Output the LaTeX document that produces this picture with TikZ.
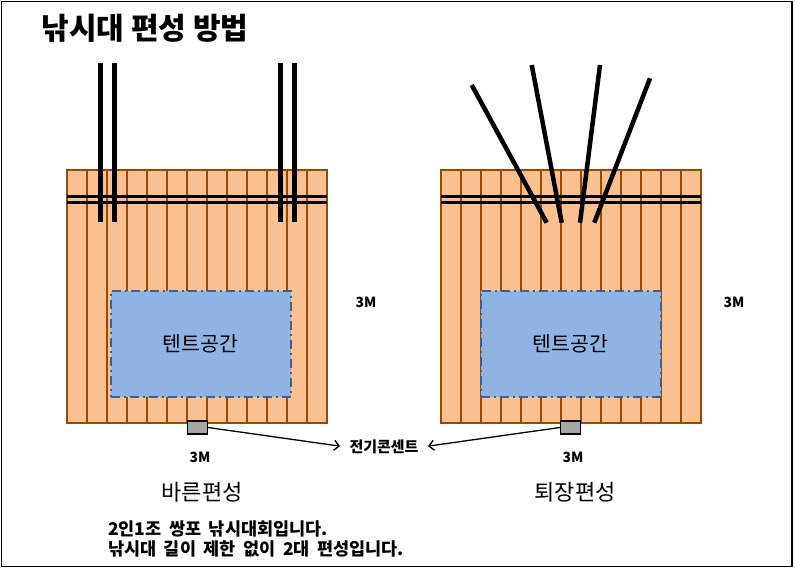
\documentclass[tikz,border=0pt]{standalone}
\usepackage{fontspec}
\setmainfont{Noto Sans CJK KR}
\usetikzlibrary{arrows.meta, positioning}
\definecolor{plank}{HTML}{FAC090}
\definecolor{plankline}{HTML}{984807}
\definecolor{tent}{HTML}{8EB4E3}
\definecolor{tentline}{HTML}{3A6296}
\definecolor{plug}{HTML}{A6A6A6}

\begin{document}
\begin{tikzpicture}[x=1pt, y=-1pt,
  rod/.style = {line width=4.5pt},
  rope/.style = {line width=3pt},
  tentbox/.style = {draw=tentline, fill=tent, line width=2pt,
    dash pattern=on 9pt off 4pt on 2pt off 4pt,
    minimum width=180pt, minimum height=106pt, font=\fontsize{20.5}{24}\selectfont},
  plugbox/.style = {draw, fill=plug, line width=1.2pt, minimum width=20pt,
    minimum height=13pt, inner sep=0pt},
  lbl/.style = {font=\bfseries\fontsize{14}{16}\selectfont},
  setname/.style = {font=\fontsize{22}{26}\selectfont}]
  \useasboundingbox (0,0) rectangle (795,569);
  \draw[line width=1.5pt] (1.5,1.5) rectangle (792,566.5);

  % platforms
  \foreach \x in {67, 441} {
    \fill[plank] (\x,170) rectangle ++(260,253);
    \foreach \i in {1,...,12}
      \draw[plankline, line width=1.8pt] (\x+20*\i,170) -- ++(0,253);
    \draw[plankline, line width=1.8pt] (\x,170) rectangle ++(260,253);
    \draw[rope] (\x,196.5) -- ++(260,0);
    \draw[rope] (\x,203) -- ++(260,0);
  }

  % rods
  \foreach \x in {100.7, 114.3, 280.3, 294.3}
    \draw[rod] (\x,63) -- (\x,222);
  \draw[rod] (471.7,85) -- (546.7,222.7);
  \draw[rod] (531.7,65) -- (561.7,222.7);
  \draw[rod] (600,65) -- (580,222.7);
  \draw[rod] (650,78.3) -- (594.3,222.7);

  \node[anchor=west, font=\bfseries\fontsize{30}{34}\selectfont] (0) at (38,28) {낚시대 편성 방법};

  \node[tentbox] (1) at (200.5,344) {텐트공간};
  \node[tentbox] (2) at (570.5,344) {텐트공간};

  \node[plugbox] (3) at (197.5,427.5) {};
  \node[plugbox] (4) at (570.5,427.5) {};
  \node[font=\bfseries\fontsize{15}{18}\selectfont] (5) at (384,447) {전기콘센트};

  \node[lbl] (6) at (200,457) {3M};
  \node[lbl] (7) at (573,457) {3M};
  \node[lbl] (8) at (366,302) {3M};
  \node[lbl] (9) at (734,302) {3M};

  \node[setname] (10) at (202,492) {바른편성};
  \node[setname] (11) at (575,492) {퇴장편성};

  \node[anchor=north west, align=left, inner sep=0pt,
    font=\bfseries\fontsize{17.5}{19.5}\selectfont] (12) at (108,521)
    {2인1조\hspace{7.5pt}쌍포\hspace{7.5pt}낚시대회입니다.\\
     낚시대\hspace{7.5pt}길이\hspace{7.5pt}제한\hspace{7.5pt}없이\hspace{7.5pt}2대\hspace{7.5pt}편성입니다.};

  \path[-{Straight Barb[length=5pt,width=10pt]}, line width=1.3pt]
  (3.east) edge [shorten >=6pt] (5.west)
  (4.west) edge [shorten >=6pt] (5.east);

\end{tikzpicture}
\end{document}
